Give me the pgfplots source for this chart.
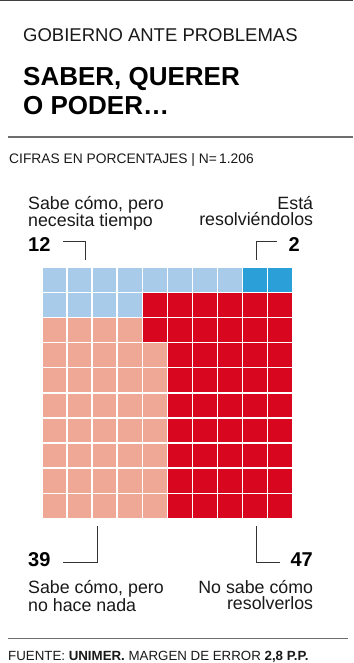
\documentclass[border=0pt]{standalone}
\usepackage{pgfplots}
\pgfplotsset{compat=1.18}
\usepackage{fontspec}
\setmainfont{Liberation Sans}
\definecolor{lblue}{RGB}{168,203,234}
\definecolor{dblue}{RGB}{42,159,216}
\definecolor{salmon}{RGB}{240,168,150}
\definecolor{cred}{RGB}{217,6,31}
\definecolor{txt}{RGB}{25,25,25}
\definecolor{rule}{RGB}{110,110,110}
\begin{document}
\begin{tikzpicture}
\useasboundingbox (0pt,0pt) rectangle (353pt,-663pt);
\fill[white] (0pt,0pt) rectangle (353pt,-663pt);
% rules
\draw[line width=1.4pt, color=black!75] (0pt,-0.7pt) -- (353pt,-0.7pt);
\draw[line width=1.2pt, color=rule] (8pt,-137pt) -- (353pt,-137pt);
\draw[line width=1pt, color=rule] (8pt,-638pt) -- (348pt,-638pt);
% titles
\node[anchor=base west, inner sep=0, text=txt] at (23pt,-41.7pt) {\fontsize{18.5}{20}\selectfont GOBIERNO ANTE PROBLEMAS};
\node[anchor=base west, inner sep=0, text=black] at (23pt,-86pt) {\fontsize{26}{28}\selectfont\bfseries SABER, QUERER};
\node[anchor=base west, inner sep=0, text=black] at (23pt,-115pt) {\fontsize{26}{28}\selectfont\bfseries O PODER…};
\node[anchor=base west, inner sep=0, text=txt] at (9pt,-163.3pt) {\fontsize{13.8}{15}\selectfont CIFRAS EN PORCENTAJES | N=\,1.206};
% top labels
\node[anchor=north west, inner sep=0, text=txt, align=left, font=\fontsize{17.8}{16}\selectfont] at (28pt,-196pt) {Sabe cómo, pero\\necesita tiempo};
\node[anchor=north east, inner sep=0, text=txt, align=right, font=\fontsize{17.8}{16}\selectfont] at (313.3pt,-196pt) {Está\\resolviéndolos};
\node[anchor=base west, inner sep=0, text=black] at (28pt,-251.7pt) {\fontsize{20}{20}\selectfont\bfseries 12};
\node[anchor=base east, inner sep=0, text=black] at (300pt,-251.7pt) {\fontsize{20}{20}\selectfont\bfseries 2};
\draw[line width=0.8pt, color=black!80] (63pt,-241pt) -- (85pt,-241pt) -- (85pt,-260pt);
\draw[line width=0.8pt, color=black!80] (277pt,-241pt) -- (256pt,-241pt) -- (256pt,-260pt);
% bottom labels
\draw[line width=0.8pt, color=black!80] (97.7pt,-526pt) -- (97.7pt,-562.7pt) -- (63pt,-562.7pt);
\draw[line width=0.8pt, color=black!80] (256pt,-526pt) -- (256pt,-562.7pt) -- (280pt,-562.7pt);
\node[anchor=base west, inner sep=0, text=black] at (28pt,-566.7pt) {\fontsize{20}{20}\selectfont\bfseries 39};
\node[anchor=base east, inner sep=0, text=black] at (313pt,-566.7pt) {\fontsize{20}{20}\selectfont\bfseries 47};
\node[anchor=north west, inner sep=0, text=txt, align=left, font=\fontsize{17.8}{16}\selectfont] at (28pt,-580.5pt) {Sabe cómo, pero\\no hace nada};
\node[anchor=north east, inner sep=0, text=txt, align=right, font=\fontsize{17.8}{16}\selectfont] at (313.3pt,-580.5pt) {No sabe cómo\\resolverlos};
% footer
\node[anchor=base west, inner sep=0, text=txt] at (8pt,-660pt) {\fontsize{13.3}{14}\selectfont FUENTE: \textbf{UNIMER.} MARGEN DE ERROR \textbf{2,8 P.P.}};
% waffle
\begin{axis}[
  at={(41.5pt,-518pt)}, anchor=south west,
  scale only axis, width=251pt, height=251pt,
  xmin=-0.5, xmax=9.5, ymin=-0.5, ymax=9.5,
  hide axis, clip=false,
  every axis plot/.append style={only marks, mark=square*, mark size=11.35pt, line width=0.4pt},
]
\addplot[color=lblue, mark options={fill=lblue, draw=lblue}] coordinates {
(0,9) (1,9) (2,9) (3,9) (4,9) (5,9) (6,9) (7,9)
(0,8) (1,8) (2,8) (3,8)
};
\addplot[color=dblue, mark options={fill=dblue, draw=dblue}] coordinates {
(8,9) (9,9)
};
\addplot[color=cred, mark options={fill=cred, draw=cred}] coordinates {
(4,8) (5,8) (6,8) (7,8) (8,8) (9,8)
(4,7) (5,7) (6,7) (7,7) (8,7) (9,7)
(5,6) (6,6) (7,6) (8,6) (9,6)
(5,5) (6,5) (7,5) (8,5) (9,5)
(5,4) (6,4) (7,4) (8,4) (9,4)
(5,3) (6,3) (7,3) (8,3) (9,3)
(5,2) (6,2) (7,2) (8,2) (9,2)
(5,1) (6,1) (7,1) (8,1) (9,1)
(5,0) (6,0) (7,0) (8,0) (9,0)
};
\addplot[color=salmon, mark options={fill=salmon, draw=salmon}] coordinates {
(0,7) (1,7) (2,7) (3,7)
(0,6) (1,6) (2,6) (3,6) (4,6)
(0,5) (1,5) (2,5) (3,5) (4,5)
(0,4) (1,4) (2,4) (3,4) (4,4)
(0,3) (1,3) (2,3) (3,3) (4,3)
(0,2) (1,2) (2,2) (3,2) (4,2)
(0,1) (1,1) (2,1) (3,1) (4,1)
(0,0) (1,0) (2,0) (3,0) (4,0)
};
% wider white gaps between groups
\draw[white, line width=4pt, line cap=rect] (axis cs:-0.6,7.5) -- (axis cs:3.5,7.5) -- (axis cs:3.5,8.5) -- (axis cs:9.6,8.5);
\draw[white, line width=4pt, line cap=rect] (axis cs:7.5,8.5) -- (axis cs:7.5,9.6);
\draw[white, line width=4pt, line cap=rect] (axis cs:3.5,7.5) -- (axis cs:3.5,6.5) -- (axis cs:4.5,6.5) -- (axis cs:4.5,-0.6);
\end{axis}
\end{tikzpicture}
\end{document}
